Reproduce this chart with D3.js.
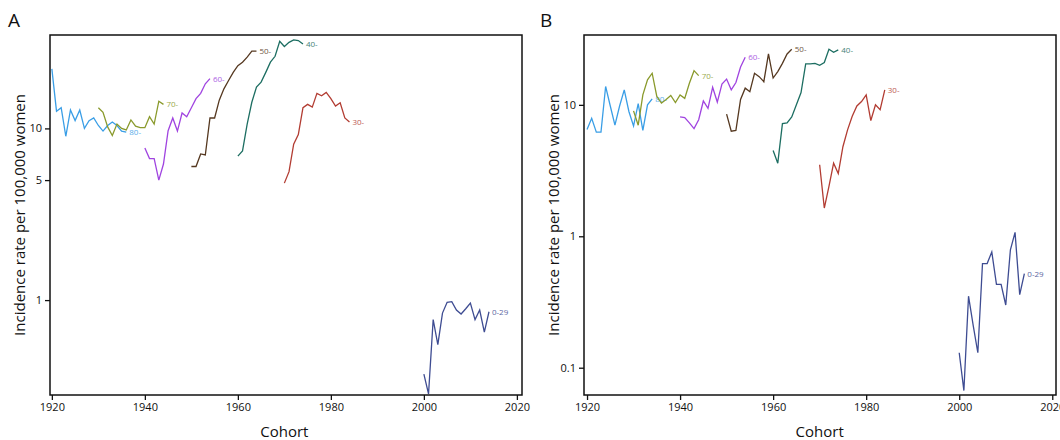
<!DOCTYPE html>
<html>
<head>
<meta charset="utf-8">
<script src="https://cdn.jsdelivr.net/npm/d3@7"></script>
<style>
  body { margin: 0; background: #fff; }
  text { font-family: "Open Sans", "Noto Sans", sans-serif; }
</style>
</head>
<body>
<svg id="chart" width="1060" height="440"></svg>
<script>
// cohort start years, one value per year
const groups = ["80-", "70-", "60-", "50-", "40-", "30-", "0-29"];
const startYears = [1920, 1930, 1940, 1950, 1960, 1970, 2000];
const colors = ["#3a9ee6", "#8a9a2c", "#a044e0", "#553820", "#1d6e62", "#b23c32", "#3e4c92"];

const panelA = [
  [22.2, 12.6, 13.2, 9.0, 12.8, 11.1, 12.8, 10.0, 11.1, 11.5, 10.4, 9.65, 10.4, 10.9, 10.4, 9.65, 9.5],
  [13.2, 12.4, 10.2, 9.1, 10.6, 10.0, 9.8, 11.2, 10.3, 10.1, 10.1, 11.7, 10.6, 14.4, 13.8],
  [7.7, 6.67, 6.67, 5.0, 6.2, 9.7, 11.5, 9.65, 12.3, 11.7, 13.2, 14.9, 16.0, 18.2, 19.5],
  [6.0, 6.0, 7.1, 7.0, 11.5, 11.5, 14.6, 17.0, 19.0, 21.2, 23.2, 24.3, 26.0, 28.2, 28.2],
  [6.9, 7.4, 10.6, 14.2, 17.4, 18.6, 21.2, 24.3, 26.3, 32.2, 30.0, 31.7, 32.8, 32.5, 31.0],
  [4.8, 5.6, 8.1, 9.2, 13.2, 13.8, 13.3, 16.0, 15.5, 16.2, 14.9, 13.5, 14.1, 11.5, 10.9],
  [0.37, 0.284, 0.77, 0.55, 0.84, 0.97, 0.98, 0.875, 0.83, 0.89, 0.96, 0.77, 0.875, 0.65, 0.855]
];
const panelB = [
  [6.5, 7.9, 6.2, 6.2, 13.8, 9.8, 7.0, 9.8, 13.0, 8.9, 6.9, 10.2, 6.4, 10.0, 11.1],
  [9.0, 7.0, 11.9, 15.5, 17.4, 11.6, 10.3, 11.0, 11.8, 10.4, 11.9, 11.2, 14.6, 18.2, 16.7],
  [8.1, 8.0, 7.3, 6.6, 7.7, 10.7, 9.4, 13.6, 10.5, 14.4, 15.7, 13.0, 14.8, 19.4, 23.0],
  [8.5, 6.3, 6.4, 11.0, 13.4, 12.6, 17.4, 16.4, 15.0, 24.4, 16.0, 17.9, 20.7, 24.4, 26.5],
  [4.5, 3.6, 7.2, 7.3, 8.1, 10.0, 12.4, 20.5, 20.5, 20.7, 20.0, 21.0, 26.5, 25.1, 26.2],
  [3.5, 1.64, 2.4, 3.6, 3.0, 4.8, 6.45, 8.2, 9.8, 10.6, 11.9, 7.6, 10.0, 9.2, 13.0],
  [0.13, 0.067, 0.35, 0.21, 0.13, 0.62, 0.62, 0.76, 0.43, 0.43, 0.30, 0.79, 1.07, 0.36, 0.52]
];
const xTicks = [1920, 1940, 1960, 1980, 2000, 2020];
const yTicksA = [1, 5, 10];
const yTicksB = [0.1, 1, 10];

const svg = d3.select("#chart");

function drawPanel(opt) {
  const x = d3.scaleLinear().domain(opt.xDomain).range([opt.left, opt.right]);
  const y = d3.scaleLog().domain(opt.yDomain).range([395, 35]);
  const g = svg.append("g");

  g.append("rect")
    .attr("x", opt.left).attr("y", 35)
    .attr("width", opt.right - opt.left).attr("height", 360)
    .attr("fill", "none").attr("stroke", "#111").attr("stroke-width", 1.5);

  const xAxis = g.append("g").attr("transform", "translate(0,395)")
    .call(d3.axisBottom(x).tickValues(xTicks).tickFormat(d3.format("d")).tickSize(5));
  const yAxis = g.append("g").attr("transform", `translate(${opt.left},0)`)
    .call(d3.axisLeft(y).tickValues(opt.yTicks).tickFormat(d => String(d)).tickSize(5));
  [xAxis, yAxis].forEach(a => {
    a.select(".domain").remove();
    a.selectAll("line").attr("stroke", "#111").attr("stroke-width", 1.3);
    a.selectAll("text").attr("font-size", 11).attr("fill", "#111");
  });

  const line = d3.line().x(d => x(d[0])).y(d => y(d[1]));
  opt.data.forEach((vals, i) => {
    const pts = vals.map((v, j) => [startYears[i] + j, v]);
    g.append("path").datum(pts)
      .attr("d", line).attr("fill", "none")
      .attr("stroke", colors[i]).attr("stroke-width", 1.3);
    const last = pts[pts.length - 1];
    g.append("text")
      .attr("x", x(last[0]) + 3).attr("y", y(last[1]) + 3)
      .attr("font-size", 8).attr("fill", colors[i]).attr("opacity", 0.85)
      .text(groups[i]);
  });

  g.append("text").attr("x", opt.tag[0]).attr("y", 27)
    .attr("font-size", 19).attr("fill", "#111").text(opt.label);
  g.append("text")
    .attr("transform", `translate(${opt.left - 25},215) rotate(-90)`)
    .attr("text-anchor", "middle").attr("font-size", 15).attr("fill", "#111")
    .text("Incidence rate per 100,000 women");
  g.append("text").attr("x", (x(1920) + x(2020)) / 2).attr("y", 437)
    .attr("text-anchor", "middle").attr("font-size", 15).attr("fill", "#111")
    .text("Cohort");
}

drawPanel({ label: "A", tag: [8], left: 50, right: 522, xDomain: [1919.6, 2021.1],
  yDomain: [0.28, 35], yTicks: yTicksA, data: panelA });
drawPanel({ label: "B", tag: [540], left: 584, right: 1056, xDomain: [1919.35, 2020.8],
  yDomain: [0.062, 34], yTicks: yTicksB, data: panelB });
</script>
</body>
</html>
